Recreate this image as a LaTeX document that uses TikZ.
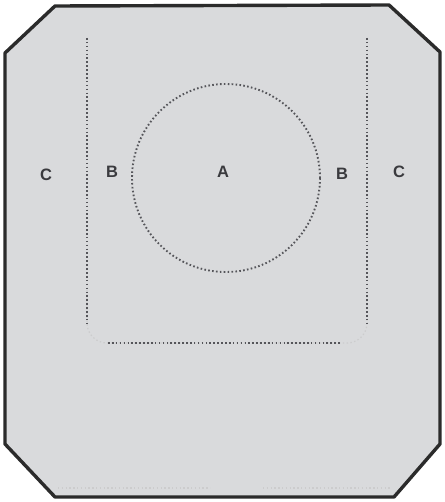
\documentclass[tikz,border=0pt]{standalone}
\usepackage{fontspec}
\setsansfont{Liberation Sans}
\usepackage{xcolor}
\definecolor{plate}{HTML}{D9DADC}
\definecolor{edge}{HTML}{2B2B2B}
\definecolor{dotgrey}{HTML}{55555A}
\definecolor{labelgrey}{HTML}{3A3A3E}

\begin{document}
\begin{tikzpicture}[x=1pt, y=-1pt,
      zone/.style={draw=dotgrey, line width=1.9pt, dash pattern=on 1.6pt off 2.3pt},
      faint/.style={draw=dotgrey!30, line width=1.2pt, dash pattern=on 1.4pt off 2.4pt},
      lbl/.style={font=\sffamily\bfseries\fontsize{16.5}{16.5}\selectfont, text=labelgrey}
    ]
      \useasboundingbox (0,0) rectangle (444,502);

      % outer plate
      \draw[line width=3.4pt, draw=edge, fill=plate, line join=round]
        (55,6) -- (389,5) -- (440,52) -- (440,444) -- (394,497)
        -- (55,497) -- (5,444) -- (5,53) -- cycle;

      % zone B
      \draw[faint, rounded corners=20pt] (87,290) -- (87,343) -- (367,343) -- (367,290);
      \draw[zone] (87,38) -- (87,323);
      \draw[zone] (367,38) -- (367,325);
      \draw[zone] (108,343) -- (341,343);
      \draw[faint] (58,488) -- (210,488);
      \draw[faint] (263,488) -- (392,488);

      % zone A
      \node[zone, circle, minimum size=188pt, inner sep=0pt] (A) at (226,178) {};

      % labels
      \node[lbl] (labelA) at (223,172) {A};
      \node[lbl] (labelBl) at (112,172) {B};
      \node[lbl] (labelBr) at (342,174) {B};
      \node[lbl] (labelCl) at (46,175) {C};
      \node[lbl] (labelCr) at (399,172) {C};
    \end{tikzpicture}
\end{document}
